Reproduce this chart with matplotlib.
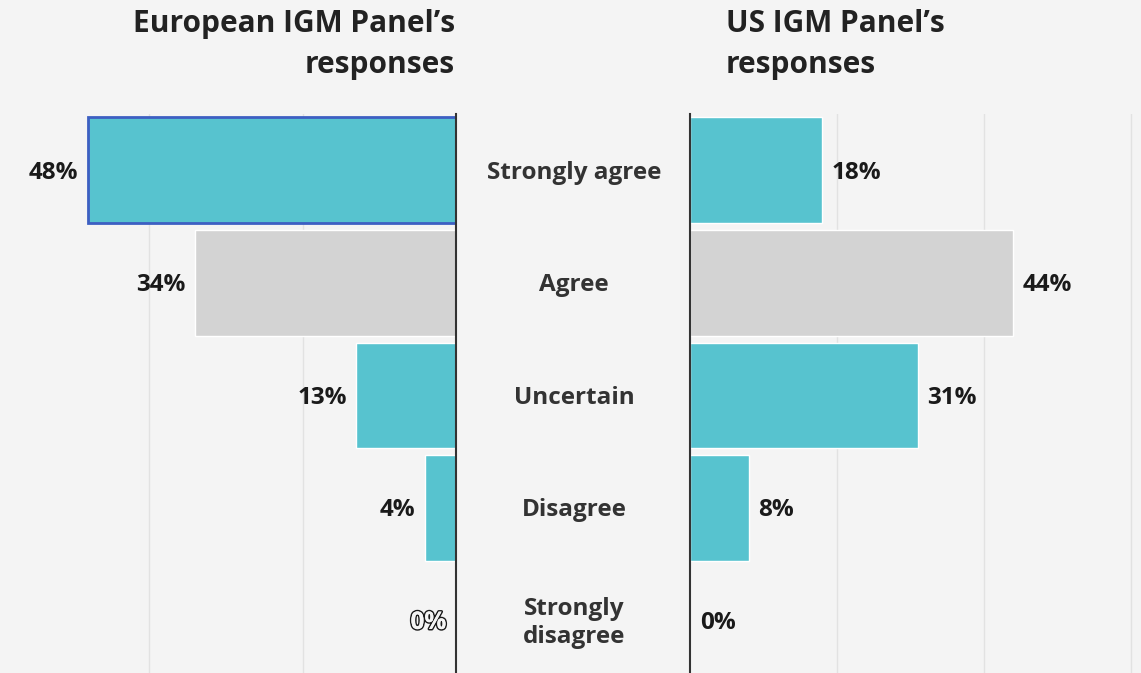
import matplotlib.pyplot as plt
import matplotlib.patheffects as pe
from matplotlib.transforms import blended_transform_factory

# Survey responses (%)
categories = ["Strongly agree", "Agree", "Uncertain", "Disagree", "Strongly\ndisagree"]
europe = [48, 34, 13, 4, 0]
us = [18, 44, 31, 8, 0]
bar_colors = ["#57c3cf", "#d3d3d3", "#57c3cf", "#57c3cf", "#57c3cf"]

bg = "#f4f4f4"
plt.rcParams['font.family'] = ['Open Sans', 'DejaVu Sans']

fig = plt.figure(figsize=(11.41, 6.73), dpi=100, facecolor=bg)
ax_l = fig.add_axes([0, -4 / 673, 456 / 1141, 563 / 673])
ax_r = fig.add_axes([690 / 1141, -4 / 673, 451 / 1141, 563 / 673])

y = list(range(len(categories)))

for ax in (ax_l, ax_r):
    ax.set_facecolor(bg)
    ax.set_ylim(4.5, -0.5)
    ax.set_yticks([])
    ax.set_xticks([20, 40, 60])
    ax.tick_params(axis='x', length=0, labelbottom=False)
    ax.grid(axis='x', color='#e2e2e2', linewidth=1)
    ax.set_axisbelow(True)
    for s in ax.spines.values():
        s.set_visible(False)

ax_l.set_xlim(59.5, 0)
ax_r.set_xlim(0, 61.4)
ax_l.spines['right'].set_visible(True)
ax_l.spines['right'].set_color('#333333')
ax_l.spines['right'].set_linewidth(1.5)
ax_r.spines['left'].set_visible(True)
ax_r.spines['left'].set_color('#333333')
ax_r.spines['left'].set_linewidth(1.5)

bars_l = ax_l.barh(y, europe, height=0.94, color=bar_colors, edgecolor='white', linewidth=1)
bars_r = ax_r.barh(y, us, height=0.94, color=bar_colors, edgecolor='white', linewidth=1)

# highlighted bar outline
bars_l[0].set_edgecolor('#3d5fc2')
bars_l[0].set_linewidth(2)

lab_kw = dict(fontsize=17.5, fontweight='bold', color='#1a1a1a', va='center')
for i, v in enumerate(europe):
    t = ax_l.annotate(f"{v}%", (v, i + 0.02), xytext=(-7, 0), textcoords='offset points', ha='right', **lab_kw)
    if v == 0:
        t.set_color(bg)
        t.set_path_effects([pe.withStroke(linewidth=2.2, foreground='#1a1a1a'), pe.Normal()])
for i, v in enumerate(us):
    ax_r.annotate(f"{v}%", (v, i + 0.02), xytext=(7, 0), textcoords='offset points', ha='left', **lab_kw)

trans = blended_transform_factory(fig.transFigure, ax_l.transData)
for i, c in enumerate(categories):
    ax_l.text(574 / 1141, i + 0.02, c, transform=trans, ha='center', va='center',
              fontsize=17.5, fontweight='bold', color='#333333', linespacing=1.25, clip_on=False)

fig.text(455 / 1141, 1 - 9 / 673, "European IGM Panel\u2019s\nresponses", ha='right', va='top',
         multialignment='right', fontsize=21.5, fontweight='bold', color='#222222', linespacing=1.5)
fig.text(726 / 1141, 1 - 9 / 673, "US IGM Panel\u2019s\nresponses", ha='left', va='top',
         multialignment='left', fontsize=21.5, fontweight='bold', color='#222222', linespacing=1.5)

fig.savefig("out.png", dpi=100, facecolor=bg)
